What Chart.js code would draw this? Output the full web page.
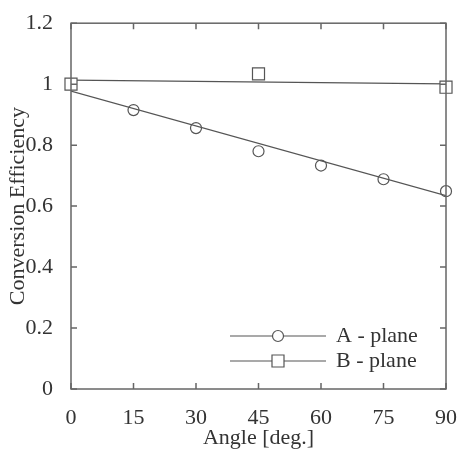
<!DOCTYPE html>
<html>
<head>
<meta charset="utf-8">
<script src="https://cdn.jsdelivr.net/npm/chart.js@4/dist/chart.umd.min.js"></script>
<style>
  html, body { margin: 0; padding: 0; background: #fff; }
  #wrap { width: 458px; height: 453px; }
</style>
</head>
<body>
<div id="wrap"><canvas id="chart"></canvas></div>
<script>
// Data
const angles = [0, 15, 30, 45, 60, 75, 90];
const planeA = [1.0, 0.915, 0.856, 0.780, 0.733, 0.688, 0.649];
const anglesB = [0, 45, 90];
const planeB = [1.0, 1.034, 0.990];
// Linear fits (end points)
const fitX = [0, 90];
const fitA = [0.977, 0.634];
const fitB = [1.013, 1.001];
const xTicks = [0, 15, 30, 45, 60, 75, 90];
const yTicks = [0, 0.2, 0.4, 0.6, 0.8, 1.0, 1.2];

const axisColor = '#666';
const lineColor = '#555';
const textColor = '#333';
const serif = "'Liberation Serif', 'Times New Roman', serif";

const toPts = (xs, ys) => xs.map((x, i) => ({ x: x, y: ys[i] }));

// Frame, inward ticks and the legend
const framePlugin = {
  id: 'frame',
  afterDraw(chart) {
    const { ctx, chartArea: a, scales } = chart;
    const tl = 6;
    ctx.save();
    ctx.strokeStyle = axisColor;
    ctx.lineWidth = 1.5;
    ctx.strokeRect(a.left, a.top, a.right - a.left, a.bottom - a.top);
    ctx.beginPath();
    xTicks.forEach(v => {
      const px = scales.x.getPixelForValue(v);
      ctx.moveTo(px, a.bottom); ctx.lineTo(px, a.bottom - tl);
      ctx.moveTo(px, a.top); ctx.lineTo(px, a.top + tl);
    });
    yTicks.forEach(v => {
      const py = scales.y.getPixelForValue(v);
      ctx.moveTo(a.left, py); ctx.lineTo(a.left + tl, py);
      ctx.moveTo(a.right, py); ctx.lineTo(a.right - tl, py);
    });
    ctx.stroke();

    // legend
    const items = [
      { label: 'A - plane', style: 'circle' },
      { label: 'B - plane', style: 'rect' }
    ];
    const x0 = a.left + 159, x1 = a.left + 255, xm = (x0 + x1) / 2;
    ctx.font = '22px ' + serif;
    ctx.textBaseline = 'middle';
    items.forEach((it, i) => {
      const y = a.bottom - 53 + i * 25;
      ctx.strokeStyle = lineColor;
      ctx.lineWidth = 1.2;
      ctx.beginPath(); ctx.moveTo(x0, y); ctx.lineTo(x1, y); ctx.stroke();
      ctx.fillStyle = '#fff';
      ctx.beginPath();
      if (it.style === 'circle') ctx.arc(xm, y, 5.5, 0, Math.PI * 2);
      else ctx.rect(xm - 6, y - 6, 12, 12);
      ctx.fill(); ctx.stroke();
      ctx.fillStyle = textColor;
      ctx.fillText(it.label, x1 + 10, y);
    });
    ctx.restore();
  }
};

new Chart(document.getElementById('chart'), {
  type: 'scatter',
  data: {
    datasets: [
      {
        label: 'A fit', data: toPts(fitX, fitA), showLine: true, order: 3,
        borderColor: lineColor, borderWidth: 1.2, pointRadius: 0
      },
      {
        label: 'B fit', data: toPts(fitX, fitB), showLine: true, order: 2,
        borderColor: lineColor, borderWidth: 1.2, pointRadius: 0
      },
      {
        label: 'A - plane', data: toPts(angles, planeA), showLine: false, order: 1,
        pointStyle: 'circle', pointRadius: 5.5, borderColor: lineColor, clip: false,
        borderWidth: 1.2, backgroundColor: 'rgba(0,0,0,0)'
      },
      {
        label: 'B - plane', data: toPts(anglesB, planeB), showLine: false, order: 0,
        pointStyle: 'rect', pointRadius: 8.5, borderColor: lineColor, clip: false,
        borderWidth: 1.2, backgroundColor: '#fff'
      }
    ]
  },
  options: {
    responsive: true,
    maintainAspectRatio: false,
    animation: false,
    layout: { padding: { top: 17, right: 0, left: 0, bottom: 0 } },
    plugins: {
      legend: { display: false },
      tooltip: { enabled: false }
    },
    scales: {
      x: {
        type: 'linear', min: 0, max: 90,
        afterFit(scale) { scale.height = 64; scale.paddingRight = 12; },
        afterBuildTicks(scale) { scale.ticks = xTicks.map(v => ({ value: v })); },
        grid: { display: false },
        border: { display: false },
        ticks: { color: textColor, padding: 8, font: { family: serif, size: 22 }, maxRotation: 0 },
        title: {
          display: true, text: 'Angle [deg.]', color: textColor,
          font: { family: serif, size: 22, lineHeight: 1.0 }, padding: { top: 0, bottom: 4 }
        }
      },
      y: {
        type: 'linear', min: 0, max: 1.2,
        afterFit(scale) { scale.width = 71; },
        afterBuildTicks(scale) { scale.ticks = yTicks.map(v => ({ value: v })); },
        grid: { display: false },
        border: { display: false },
        ticks: {
          color: textColor, padding: 10, font: { family: serif, size: 22 },
          callback: v => String(Math.round(v * 10) / 10)
        },
        title: {
          display: true, text: 'Conversion Efficiency', color: textColor,
          font: { family: serif, size: 22, lineHeight: 1.0 }, padding: { top: 7, bottom: 0 }
        }
      }
    }
  },
  plugins: [framePlugin]
});
</script>
</body>
</html>
